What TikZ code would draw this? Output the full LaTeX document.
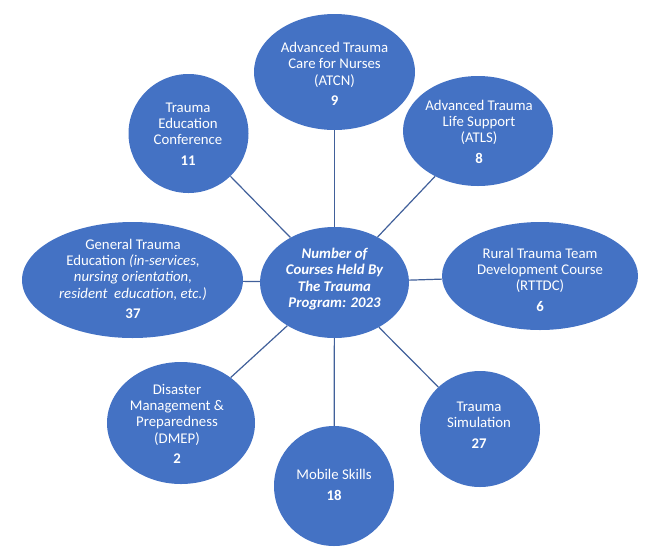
\documentclass[tikz,border=0pt]{standalone}
\usepackage{fontspec}
\setmainfont{Carlito}
\usetikzlibrary{shapes.geometric}
\definecolor{bubblefill}{HTML}{4472C4}
\definecolor{linkcol}{HTML}{41609A}
\begin{document}
\begin{tikzpicture}[x=1pt,y=-1pt,
  bubble/.style={ellipse,fill=bubblefill,draw=none,inner sep=0pt},
  txt/.style={text=white,align=center,inner sep=0pt,font=\fontsize{14.8}{16.3}\selectfont},
  link/.style={draw=linkcol,line width=1.2pt}]
\useasboundingbox (0,0) rectangle (672,558);
% bubbles
\node[bubble,minimum width=149pt,minimum height=111pt] (c) at (334.5,282.5) {};
\node[bubble,minimum width=161pt,minimum height=116pt] (atcn) at (334.5,72) {};
\node[bubble,minimum width=150pt,minimum height=110pt] (atls) at (478,131) {};
\node[bubble,minimum width=196pt,minimum height=108pt] (rttdc) at (540,276) {};
\node[bubble,minimum width=120pt,minimum height=116pt] (sim) at (480,429) {};
\node[bubble,minimum width=120pt,minimum height=120pt] (mob) at (334,486) {};
\node[bubble,minimum width=148pt,minimum height=122pt] (dmep) at (181,423) {};
\node[bubble,minimum width=221pt,minimum height=116pt] (gen) at (132.5,280) {};
\node[bubble,minimum width=120pt,minimum height=119pt] (tec) at (188.5,133.5) {};
% connectors
\foreach \n in {atcn,atls,rttdc,sim,mob,dmep,gen,tec} \draw[link] (c) -- (\n);
% texts
\node[txt,font=\fontsize{14.8}{16.3}\selectfont\bfseries\itshape] (ct) at (334.5,279) {Number of\\Courses Held By\\The Trauma\\Program: 2023};
\node[txt] (atcnt) at (334.5,74) {Advanced Trauma\\Care for Nurses\\(ATCN)\\[4.5pt]\textbf{9}};
\node[txt] (atlst) at (479,132) {Advanced Trauma\\Life Support\\(ATLS)\\[4.5pt]\textbf{8}};
\node[txt] (rttdct) at (540,280) {Rural Trauma Team\\Development Course\\(RTTDC)\\[4.5pt]\textbf{6}};
\node[txt] (simt) at (479,425) {Trauma\\Simulation\\[4.5pt]\textbf{27}};
\node[txt] (mobt) at (334,485) {Mobile Skills\\[4.5pt]\textbf{18}};
\node[txt] (dmept) at (177,424) {Disaster\\Management \&\\Preparedness\\(DMEP)\\[4.5pt]\textbf{2}};
\node[txt] (gent) at (133,279) {General Trauma\\Education \textit{(in-services,}\\\textit{nursing orientation,}\\\textit{resident\ \ education, etc.)}\\[4.5pt]\textbf{37}};
\node[txt] (tect) at (188,134) {Trauma\\Education\\Conference\\[4.5pt]\textbf{11}};
\end{tikzpicture}
\end{document}
